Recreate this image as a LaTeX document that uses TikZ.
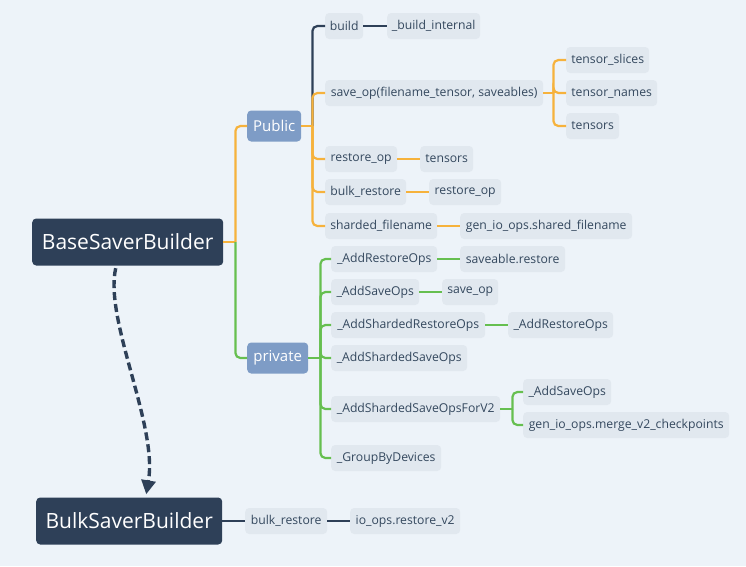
\documentclass[tikz,border=0pt]{standalone}
\usepackage{fontspec}
\setmainfont{Open Sans}
\usetikzlibrary{arrows.meta,calc}
\definecolor{bgc}{HTML}{EDF3F9}
\definecolor{darkc}{HTML}{2E4058}
\definecolor{pubc}{HTML}{7E9CC6}
\definecolor{leafc}{HTML}{E1E8EF}
\definecolor{txtc}{HTML}{34485E}
\definecolor{orc}{HTML}{F6B23C}
\definecolor{grc}{HTML}{66BF50}
\tikzset{
  rootbox/.style={fill=darkc, text=white, rounded corners=4pt, font=\fontsize{21}{24}\selectfont, minimum height=47, inner xsep=2, anchor=west},
  mainbox/.style={fill=pubc, text=white, rounded corners=4pt, font=\fontsize{15}{18}\selectfont, minimum height=31, inner xsep=2, anchor=west},
  leafbox/.style={fill=leafc, text=txtc, rounded corners=4pt, font=\fontsize{12.2}{14}\selectfont, minimum height=26, inner xsep=1, anchor=west},
  orl/.style={draw=orc, line width=2.2pt, rounded corners=5pt},
  grl/.style={draw=grc, line width=2.2pt, rounded corners=5pt},
  dkl/.style={draw=darkc, line width=2.2pt, rounded corners=5pt},
}
\begin{document}
\begin{tikzpicture}[x=1pt,y=-1pt]
\fill[bgc] (0,0) rectangle (746,566);
\useasboundingbox (0,0) rectangle (746,566);

% roots
\node[rootbox, minimum width=191] (base) at (32,242) {BaseSaverBuilder};
\node[rootbox, minimum width=186] (bulk) at (36,521) {BulkSaverBuilder};
% main topics
\node[mainbox, minimum width=54] (pub) at (247,126) {Public};
\node[mainbox, minimum width=61] (priv) at (247,358) {private};

% public children
\node[leafbox, minimum width=38] (build) at (325,26) {build};
\node[leafbox, minimum width=93] (bint) at (387,26) {\_build\_internal};
\node[leafbox, minimum width=218] (saveop) at (325,93) {save\_op(filename\_tensor, saveables)};
\node[leafbox, minimum width=83] (tslices) at (566,60) {tensor\_slices};
\node[leafbox, minimum width=91] (tnames) at (566,93) {tensor\_names};
\node[leafbox, minimum width=53] (tens) at (566,126) {tensors};
\node[leafbox, minimum width=72] (rop) at (325,159) {restore\_op};
\node[leafbox, minimum width=53] (rtens) at (420,159) {tensors};
\node[leafbox, minimum width=81] (brest) at (325,192) {bulk\_restore};
\node[leafbox, minimum width=72] (brop) at (429,192) {restore\_op};
\node[leafbox, minimum width=112] (shf) at (325,226) {sharded\_filename};
\node[leafbox, minimum width=172] (gshf) at (460,226) {gen\_io\_ops.shared\_filename};

% private children
\node[leafbox, minimum width=106] (aro) at (331,259) {\_AddRestoreOps};
\node[leafbox, minimum width=105] (sres) at (460,259) {saveable.restore};
\node[leafbox, minimum width=88] (aso) at (331,292) {\_AddSaveOps};
\node[leafbox, minimum width=56] (sop) at (442,292) {save\_op};
\node[leafbox, minimum width=154] (asro) at (331,325) {\_AddShardedRestoreOps};
\node[leafbox, minimum width=105] (aro2) at (508,325) {\_AddRestoreOps};
\node[leafbox, minimum width=136] (asso) at (331,358) {\_AddShardedSaveOps};
\node[leafbox, minimum width=169] (assov) at (331,409) {\_AddShardedSaveOpsForV2};
\node[leafbox, minimum width=88] (aso2) at (523,392) {\_AddSaveOps};
\node[leafbox, minimum width=206] (merge) at (523,425) {gen\_io\_ops.merge\_v2\_checkpoints};
\node[leafbox, minimum width=110] (gbd) at (331,458) {\_GroupByDevices};

% bulk children
\node[leafbox, minimum width=82] (brest2) at (245,521) {bulk\_restore};
\node[leafbox, minimum width=110] (iorv) at (350,521) {io\_ops.restore\_v2};

% junction coordinates
\coordinate (bj) at ($(base.east)+(12,0)$);
\coordinate (pj) at ($(pub.east)+(11,0)$);
\coordinate (vj) at ($(priv.east)+(12,0)$);
\coordinate (sj) at ($(saveop.east)+(10,0)$);
\coordinate (v2j) at ($(assov.east)+(12,0)$);

% base -> main topics
\draw[orl, rounded corners=0] (base.east) -- (bj);
\draw[orl] (bj) |- (pub.west);
\draw[grl] (bj) |- (priv.west);

% public branches
\draw[dkl] (pj) |- (build.west);
\draw[dkl, line width=2.8pt] (build.east) -- (bint.west);
\draw[orl, rounded corners=0] (pub.east) -- (pj);
\draw[orl] (pj) |- (saveop.west);
\draw[orl] (pj) |- (rop.west);
\draw[orl] (pj) |- (brest.west);
\draw[orl] (pj) |- (shf.west);
\draw[orl, rounded corners=0] (saveop.east) -- (sj);
\draw[orl] (sj) |- (tslices.west);
\draw[orl] (sj) |- (tnames.west);
\draw[orl] (sj) |- (tens.west);
\draw[orl] (rop.east) -- (rtens.west);
\draw[orl] (brest.east) -- (brop.west);
\draw[orl] (shf.east) -- (gshf.west);

% private branches
\draw[grl, rounded corners=0] (priv.east) -- (vj);
\draw[grl] (vj) |- (aro.west);
\draw[grl] (vj) |- (aso.west);
\draw[grl] (vj) |- (asro.west);
\draw[grl] (vj) |- (asso.west);
\draw[grl] (vj) |- (assov.west);
\draw[grl] (vj) |- (gbd.west);
\draw[grl] (aro.east) -- (sres.west);
\draw[grl] (aso.east) -- (sop.west);
\draw[grl] (asro.east) -- (aro2.west);
\draw[grl, rounded corners=0] (assov.east) -- (v2j);
\draw[grl] (v2j) |- (aso2.west);
\draw[grl] (v2j) |- (merge.west);

% bulk branches
\draw[dkl, line width=2.8pt] (bulk.east) -- (brest2.west);
\draw[dkl, line width=2.8pt] (brest2.east) -- (iorv.west);

% dashed relationship
\coordinate (ds) at ($(base.south)+(-12,2.5)$);
\coordinate (de) at ($(bulk.north)+(17,-3)$);
\draw[darkc, line width=3.4pt, dash pattern=on 8pt off 4pt, -{Triangle[length=14pt,width=14pt]}]
  (ds) .. controls (104,320) and (158,425) .. (de);
\end{tikzpicture}
\end{document}
